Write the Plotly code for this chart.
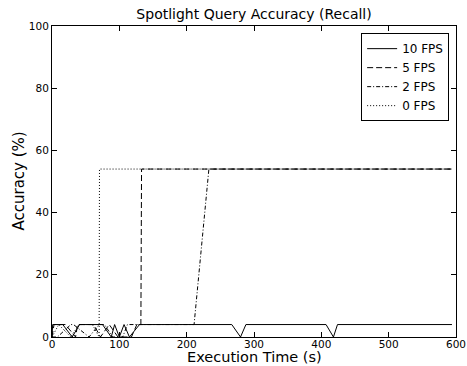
import plotly.graph_objects as go

# Data (time in s, accuracy in %)
t10 = [0, 1, 16, 30, 41, 75, 88, 93, 100, 107, 115, 130, 267, 280, 288, 407, 418, 424, 594]
v10 = [0, 4, 4, 0, 4, 4, 0, 4, 0, 4, 0, 4, 4, 0, 4, 4, 0, 4, 4]

t5 = [0, 3, 20, 35, 38, 62, 72, 85, 98, 118, 126, 132, 133, 594]
v5 = [0, 4, 4, 0, 4, 4, 0, 4, 0, 0, 4, 4, 54, 54]

t2 = [0, 8, 28, 32, 55, 70, 78, 90, 105, 112, 125, 211, 233, 594]
v2 = [0, 0, 4, 4, 0, 4, 4, 0, 0, 4, 4, 4, 54, 54]

t0 = [0, 10, 28, 40, 60, 70, 70.5, 594]
v0 = [0, 4, 0, 4, 4, 0, 54, 54]

series = [
    ("10 FPS", t10, v10, "solid"),
    ("5 FPS", t5, v5, "6px,3px"),
    ("2 FPS", t2, v2, "4px,2px,1px,2px"),
    ("0 FPS", t0, v0, "1px,2px"),
]

x_ticks = [0, 100, 200, 300, 400, 500, 600]
y_ticks = [0, 20, 40, 60, 80, 100]

FONT = "DejaVu Sans"

fig = go.Figure()
for name, t, v, dash in series:
    fig.add_trace(go.Scatter(x=t, y=v, mode="lines", name=name,
                             line=dict(color="black", width=1, dash=dash)))

axis_common = dict(
    showgrid=False, zeroline=False, showline=True, linecolor="black", linewidth=1,
    mirror="allticks", ticks="inside", ticklen=5, tickcolor="black", tickwidth=1,
    tickfont=dict(family=FONT, size=10.5, color="black"), automargin=False,
    ticklabeloverflow="allow",
)

fig.update_layout(
    width=467, height=366,
    margin=dict(l=52, r=11, t=26, b=29),
    paper_bgcolor="white", plot_bgcolor="white",
    font=dict(family=FONT, color="black"),
    title=dict(text="Spotlight Query Accuracy (Recall)", x=0.544, xanchor="center",
               y=1 - 14 / 366, yanchor="middle", font=dict(family=FONT, size=14, color="black")),
    xaxis=dict(range=[0, 600], tickvals=x_ticks, ticklabelstandoff=-3, **axis_common),
    yaxis=dict(range=[0, 100], tickvals=y_ticks, **axis_common),
    legend=dict(x=0.983, y=0.977, xanchor="right", yanchor="top",
                bordercolor="black", borderwidth=1, bgcolor="white",
                font=dict(family=FONT, size=12, color="black"),
                tracegroupgap=0, itemwidth=30),
    showlegend=True,
    annotations=[
        dict(text="Execution Time (s)", xref="paper", yref="paper", x=0.5, y=-(357.5 - 337) / 311,
             xanchor="center", yanchor="middle", showarrow=False,
             font=dict(family=FONT, size=14.5, color="black")),
        dict(text="Accuracy (%)", xref="paper", yref="paper", x=(18 - 52) / 404, y=0.5,
             xanchor="center", yanchor="middle", showarrow=False, textangle=-90,
             font=dict(family=FONT, size=15, color="black")),
    ],
)

fig.write_html("out.html")
